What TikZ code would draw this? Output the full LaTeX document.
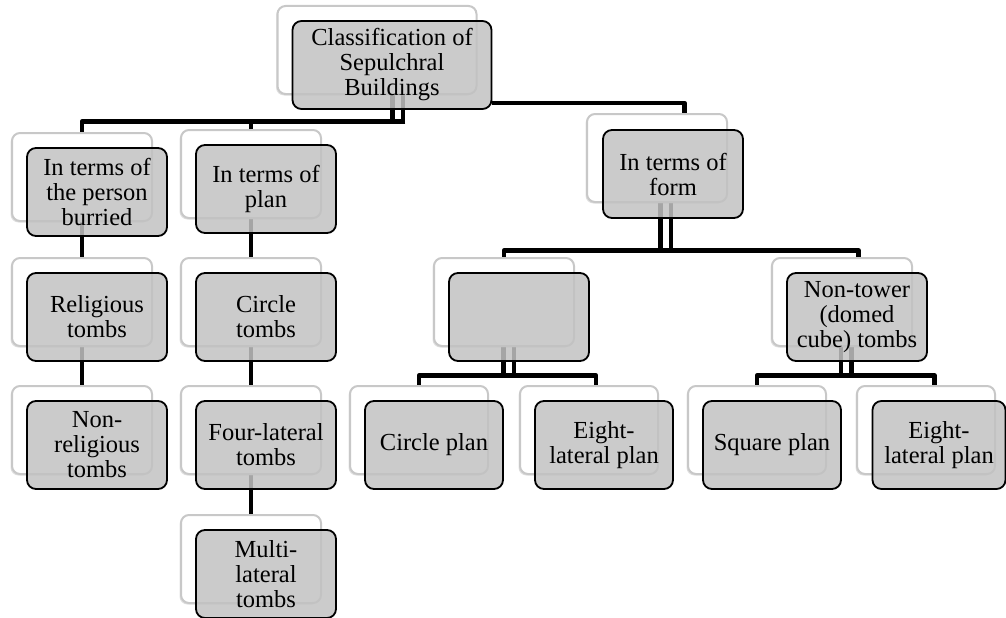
\documentclass[tikz,border=0pt]{standalone}
\usepackage{fontspec}
\setmainfont{Liberation Serif}
\usetikzlibrary{calc, shadows, backgrounds}
\definecolor{boxgray}{RGB}{194, 194, 194}
\definecolor{edgegray}{RGB}{200, 200, 200}

\begin{document}
\begin{tikzpicture}[x=1pt, y=-1pt,
  backbox/.style={draw=edgegray, line width=2pt, fill=white, rounded corners=8pt,
    minimum width=140pt, minimum height=88pt, inner sep=0pt,
    drop shadow={shadow xshift=-1.5pt, shadow yshift=-1.5pt, opacity=0.25}},
  frontbox/.style={draw=black, line width=1.8pt, fill=boxgray, fill opacity=0.85,
    text opacity=1, rounded corners=9pt, minimum width=140pt, minimum height=88pt,
    inner sep=2pt, align=center, font={\fontsize{24.5}{25}\selectfont}},
  link/.style={line width=4.5pt, line join=round},
  stem/.style={line width=4.5pt, double=white, double distance=6pt}]
  \useasboundingbox (0,0) rectangle (1006,618);

  % 后层白框
  \node[backbox, minimum width=199pt] (rootb) at (377,50) {};
  \node[backbox] (persb) at (82,177) {};
  \node[backbox] (planb) at (251,174) {};
  \node[backbox] (formb) at (657,158) {};
  \node[backbox] (relb) at (82,302) {};
  \node[backbox] (nrelb) at (82,430) {};
  \node[backbox] (circb) at (251,302) {};
  \node[backbox] (fourb) at (251,430) {};
  \node[backbox] (multb) at (251,559) {};
  \node[backbox] (blankb) at (504,302) {};
  \node[backbox] (ntowb) at (842,302) {};
  \node[backbox, minimum width=138pt] (cplanb) at (419,430) {};
  \node[backbox, minimum width=138pt] (eplanab) at (589,430) {};
  \node[backbox, minimum width=138pt] (splanb) at (757,430) {};
  \node[backbox, minimum width=138pt] (eplanbb) at (926,430) {};

  % 前层灰框
  \node[frontbox, minimum width=199pt] (root) at (392,65) {Classification of\\Sepulchral\\Buildings};
  \node[frontbox] (pers) at (97,192) {In terms of\\the person\\burried};
  \node[frontbox] (plan) at (266,189) {In terms of\\plan};
  \node[frontbox] (form) at (673,174) {In terms of\\form};
  \node[frontbox] (rel) at (97,317) {Religious\\tombs};
  \node[frontbox] (nrel) at (97,445) {Non-\\religious\\tombs};
  \node[frontbox] (circ) at (266,317) {Circle\\tombs};
  \node[frontbox] (four) at (266,445) {Four-lateral\\tombs};
  \node[frontbox] (mult) at (266,574) {Multi-\\lateral\\tombs};
  \node[frontbox] (blank) at (519,317) {};
  \node[frontbox] (ntow) at (857,317) {Non-tower\\(domed\\cube) tombs};
  \node[frontbox, minimum width=138pt] (cplan) at (434,445) {Circle plan};
  \node[frontbox, minimum width=138pt] (eplana) at (604,445) {Eight-\\lateral plan};
  \node[frontbox, minimum width=138pt] (splan) at (772,445) {Square plan};
  \node[frontbox, minimum width=133pt] (eplanb) at (939,445) {Eight-\\lateral plan};

  % 连线（放在底层）
  \coordinate (rootbus) at (405,121.5);
  \coordinate (formbus) at (665.5,250.5);
  \coordinate (blankbus) at (508.5,375.5);
  \coordinate (ntowbus) at (846,375.5);
  \begin{scope}[on background layer]
    \draw[stem] ([xshift=20.5pt]rootb.south) -- ++(0,27.5);
    \draw[link] (rootbus) -| (persb.north);
    \draw[link] (rootbus) -| (planb.north);
    \draw[link] ([yshift=-38pt]root.east) -| ([xshift=27.5pt]formb.north);

    \draw[link] (persb.south) -- (relb.north);
    \draw[link] (relb.south) -- (nrelb.north);
    \draw[link] (planb.south) -- (circb.north);
    \draw[link] (circb.south) -- (fourb.north);
    \draw[link] (fourb.south) -- (multb.north);

    \draw[stem] ([xshift=8.5pt]formb.south) -- (formbus);
    \draw[link] (formbus) -| (blankb.north);
    \draw[link] (formbus) -| ([xshift=16.5pt]ntowb.north);

    \draw[stem] ([xshift=4.5pt]blankb.south) -- (blankbus);
    \draw[link] (blankbus) -| (cplanb.north);
    \draw[link] (blankbus) -| ([xshift=7pt]eplanab.north);

    \draw[stem] ([xshift=4pt]ntowb.south) -- (ntowbus);
    \draw[link] (ntowbus) -| (splanb.north);
    \draw[link] (ntowbus) -| ([xshift=8.5pt]eplanbb.north);
  \end{scope}
\end{tikzpicture}
\end{document}
